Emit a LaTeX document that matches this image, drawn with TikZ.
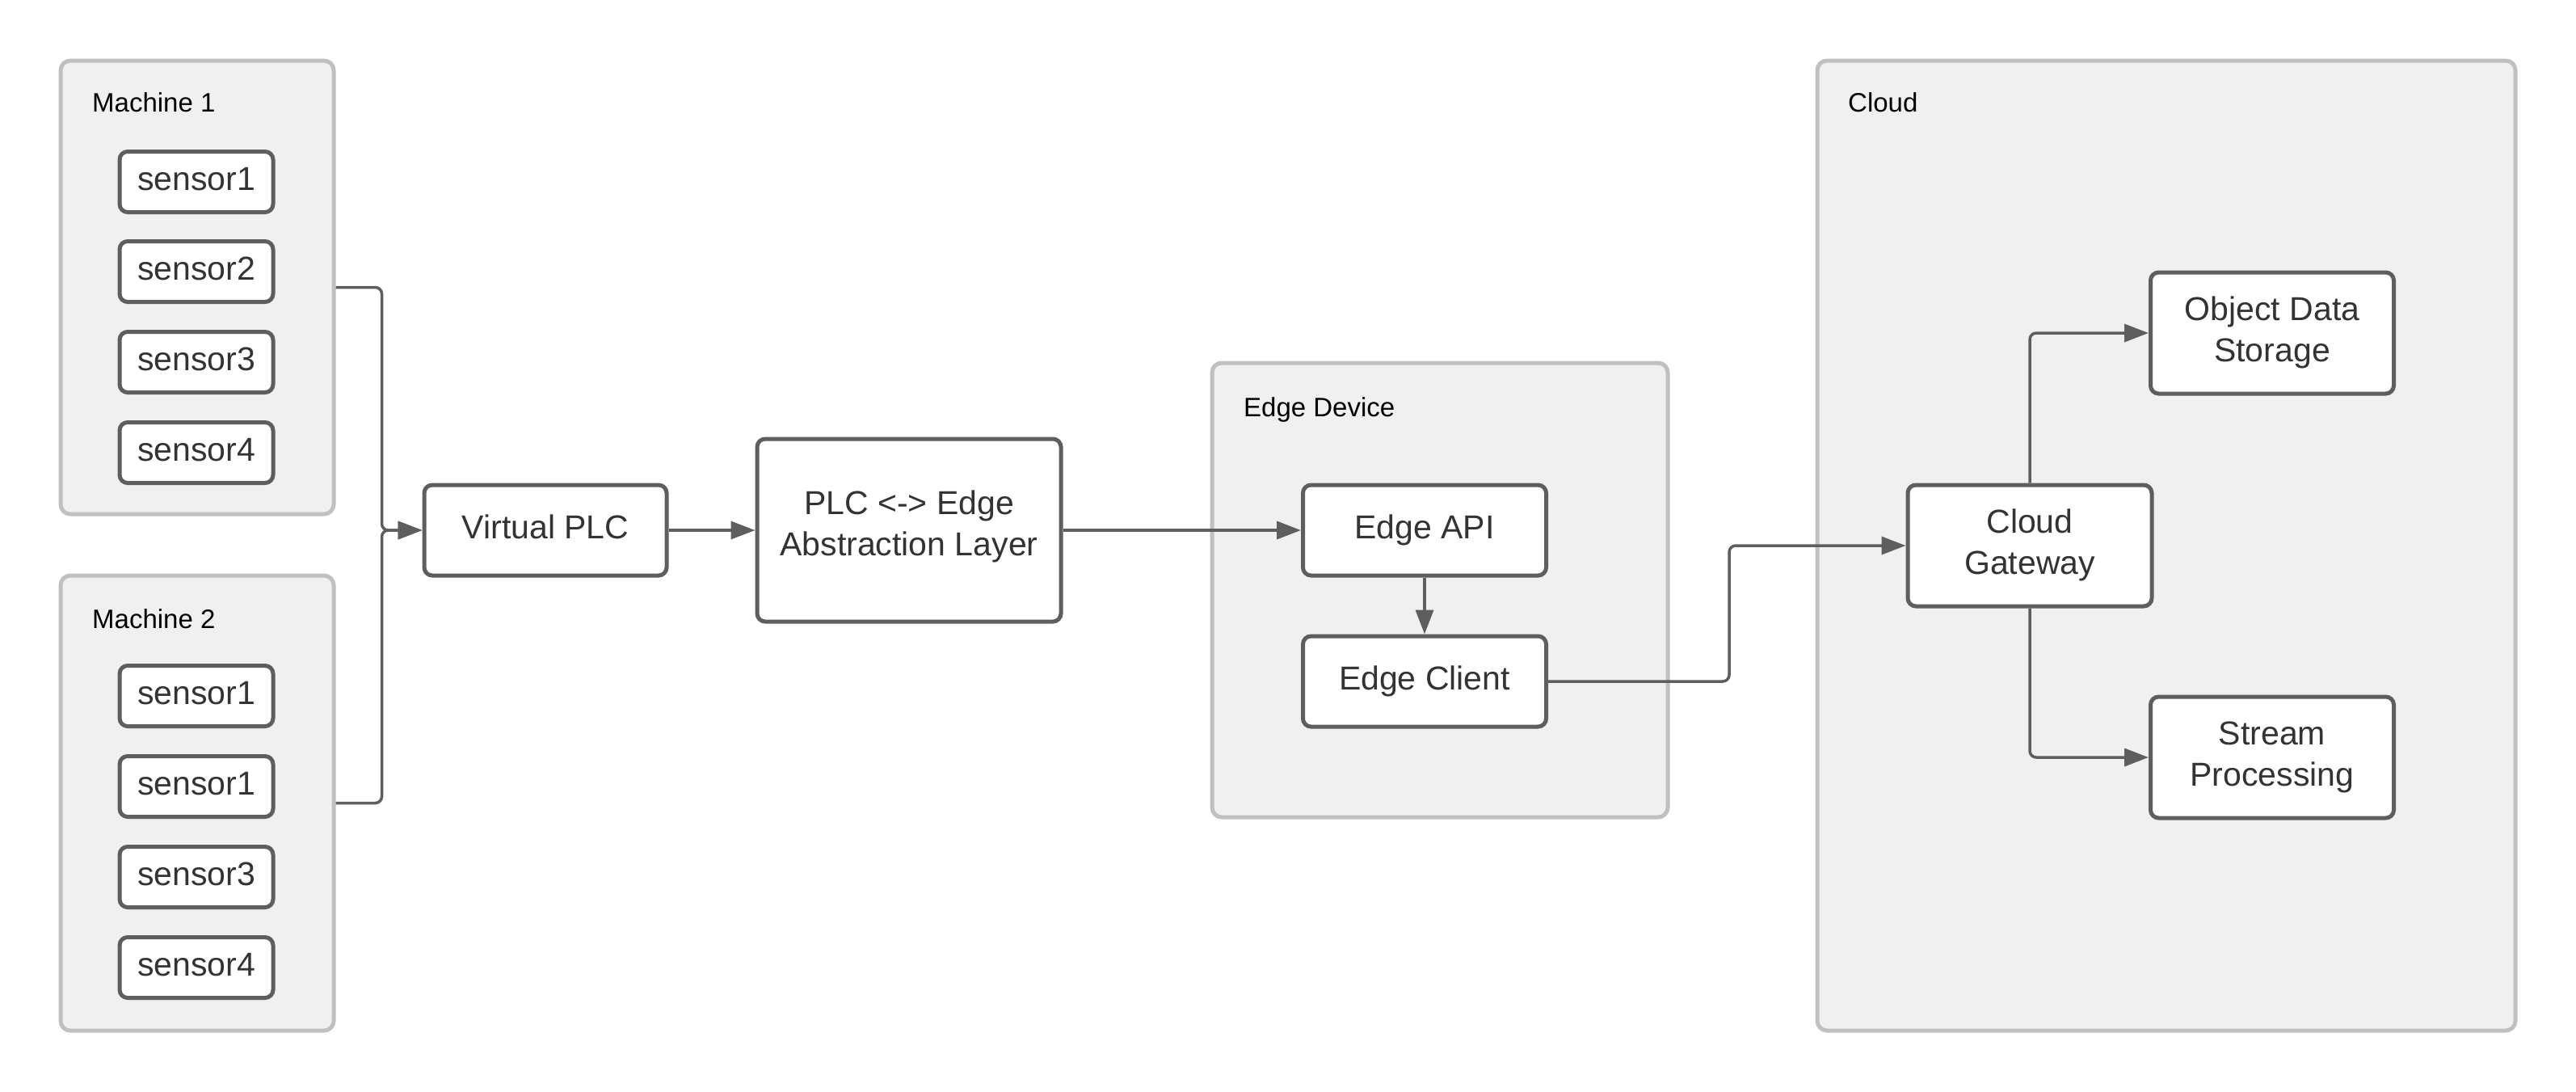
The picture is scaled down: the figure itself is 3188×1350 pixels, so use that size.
\documentclass[tikz,border=0pt]{standalone}
\usepackage{fontspec}
\setmainfont{Liberation Sans}
\usetikzlibrary{arrows.meta}
\definecolor{boxline}{HTML}{5E5E5E}
\definecolor{boxtext}{HTML}{333333}
\definecolor{contline}{HTML}{C0C0C0}
\definecolor{contfill}{HTML}{F0F0F0}
\begin{document}
\begin{tikzpicture}[x=1pt,y=-1pt,
 container/.style={draw=contline, fill=contfill, line width=5pt, rounded corners=12pt, inner sep=0pt},
 clabel/.style={anchor=base west, font=\fontsize{33}{40}\selectfont, text=black, inner sep=0pt},
 block/.style={draw=boxline, fill=white, line width=5pt, rounded corners=10pt, inner sep=0pt, align=center, text=boxtext, font=\fontsize{41}{51}\selectfont},
 oneline/.style={block, text height=30pt, text depth=10pt},
 twoline/.style={block, text depth=17pt},
 cloudbox/.style={block, text depth=9pt, minimum width=301pt, minimum height=150pt},
 sensorbox/.style={oneline, minimum width=190pt, minimum height=75pt},
 conn/.style={draw=boxline, line width=3.5pt, rounded corners=8pt, -{Triangle[length=30pt,width=22pt]}}
]
\useasboundingbox (0,0) rectangle (3188,1350);

% containers
\node[container, minimum width=338pt, minimum height=561pt] (m1) at (244,355.5) {};
\node[container, minimum width=338pt, minimum height=563pt] (m2) at (244,993.5) {};
\node[container, minimum width=564pt, minimum height=562pt] (edev) at (1782,730) {};
\node[container, minimum width=864pt, minimum height=1200pt] (cloud) at (2681,675) {};

\node[clabel] (m1l) at (114,138) {Machine 1};
\node[clabel] (m2l) at (114,777) {Machine 2};
\node[clabel] (edl) at (1539,515) {Edge Device};
\node[clabel] (cll) at (2287,138) {Cloud};

% sensors
\node[sensorbox] (s11) at (243,225) {sensor1};
\node[sensorbox] (s12) at (243,336) {sensor2};
\node[sensorbox] (s13) at (243,448) {sensor3};
\node[sensorbox] (s14) at (243,560) {sensor4};
\node[sensorbox] (s21) at (243,861) {sensor1};
\node[sensorbox] (s22) at (243,973) {sensor1};
\node[sensorbox] (s23) at (243,1085) {sensor3};
\node[sensorbox] (s24) at (243,1197) {sensor4};

% blocks
\node[oneline, minimum width=300pt, minimum height=112pt] (vplc) at (675,656) {Virtual PLC};
\node[twoline, minimum width=376pt, minimum height=226pt] (abs) at (1125,656) {PLC <-> Edge\\Abstraction Layer};
\node[oneline, minimum width=301pt, minimum height=112pt] (eapi) at (1763,656) {Edge API};
\node[oneline, minimum width=301pt, minimum height=112pt] (ecl) at (1763,843) {Edge Client};
\node[cloudbox, minimum width=302pt] (gw) at (2512,675) {Cloud\\Gateway};
\node[cloudbox] (ods) at (2812,412) {Object Data\\Storage};
\node[cloudbox] (sp) at (2812,937) {Stream\\Processing};

% connectors
\draw[conn] (m1.east) -- ++(57,0) |- (vplc.west);
\draw[conn] (m2.east) -- ++(57,0) |- (vplc.west);
\draw[conn] (vplc.east) -- (abs.west);
\draw[conn] (abs.east |- eapi.west) -- (eapi.west);
\draw[conn] (eapi.south) -- (ecl.north);
\draw[conn] (ecl.east) -- ++(224,0) |- (gw.west);
\draw[conn] (gw.north) |- (ods.west);
\draw[conn] (gw.south) |- (sp.west);
\end{tikzpicture}
\end{document}
